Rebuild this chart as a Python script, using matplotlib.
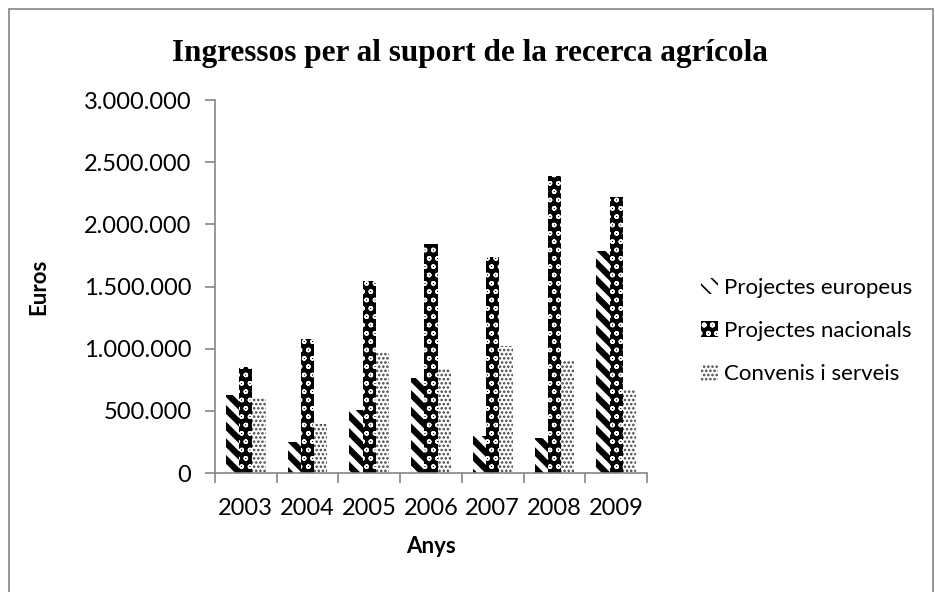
import numpy as np
import matplotlib
matplotlib.use("Agg")
from matplotlib import pyplot as plt
from matplotlib.patches import Rectangle
from matplotlib.ticker import FuncFormatter

years = ["2003", "2004", "2005", "2006", "2007", "2008", "2009"]
europeus = [626000, 251000, 505000, 765000, 297000, 278000, 1789000]
nacionals = [853000, 1080000, 1548000, 1842000, 1735000, 2390000, 2216000]
convenis = [607000, 398000, 973000, 834000, 1021000, 906000, 666000]
series_names = ["Projectes europeus", "Projectes nacionals", "Convenis i serveis"]

plt.rcParams['font.family'] = ['Lato', 'DejaVu Sans']
AXIS_GREY = '#868686'


def thousands(v, pos):
    return "{:,.0f}".format(v).replace(",", ".")


def hatch_bars(ax, x, vals, width, face, hatch_col, hatch, hatch_lw, label):
    plt.rcParams['hatch.linewidth'] = hatch_lw
    bars = ax.bar(x, vals, width, color=face, edgecolor=hatch_col, hatch=hatch,
                  linewidth=0, label=label)
    for b in bars:
        if hasattr(b, 'set_hatch_linewidth'):
            b.set_hatch_linewidth(hatch_lw)
    return bars


fig = plt.figure(figsize=(9.35, 5.92), dpi=100)
fig.patches.append(Rectangle((9 / 935, -0.1), 924 / 935, 1.1 - 9 / 592, transform=fig.transFigure,
                             fill=False, edgecolor=AXIS_GREY, linewidth=1.2))
ax = fig.add_axes([215 / 935, 1 - 473 / 592, (647 - 215) / 935, (473 - 100) / 592])

x = np.arange(len(years))
w = 0.215
b1 = hatch_bars(ax, x - w, europeus, w, 'white', 'black', '\\\\', 4.5, series_names[0])
b2 = hatch_bars(ax, x, nacionals, w, 'black', 'white', 'oo', 1.0, series_names[1])
b3 = hatch_bars(ax, x + w, convenis, w, 'white', '#404040', '....', 1.2, series_names[2])

ax.set_xlim(-0.5, len(years) - 0.5)
ax.set_ylim(0, 3000000)
ax.set_yticks(np.arange(0, 3000001, 500000))
ax.yaxis.set_major_formatter(FuncFormatter(thousands))
ax.set_xticks(np.arange(-0.5, len(years), 1.0), minor=False)
ax.set_xticklabels([])
ax.set_xticks(x, minor=True)
ax.set_xticklabels(years, minor=True)
ax.tick_params(axis='x', which='minor', length=0, labelsize=17, pad=18)
ax.tick_params(axis='x', which='major', length=7, color=AXIS_GREY, width=1.2)
ax.tick_params(axis='y', length=7, color=AXIS_GREY, width=1.2, labelsize=17, pad=10)

for side in ['top', 'right']:
    ax.spines[side].set_visible(False)
for side in ['left', 'bottom']:
    ax.spines[side].set_color(AXIS_GREY)
    ax.spines[side].set_linewidth(1.2)

ax.set_xlabel("Anys", fontsize=16, fontweight='bold', labelpad=12)
ax.set_ylabel("Euros", fontsize=16, fontweight='bold', labelpad=25)

fig.text(0.503, 1 - 54 / 592, "Ingressos per al suport de la recerca agrícola",
         family='Liberation Serif', fontsize=22.5, fontweight='bold', ha='center', va='center')

leg = fig.legend(handles=[b1, b2, b3], labels=series_names, loc='center left',
                 bbox_to_anchor=(681 / 935, 1 - 331 / 592), frameon=False, fontsize=16,
                 handlelength=0.75, handleheight=0.75, handletextpad=0.3, labelspacing=1.05)

fig.savefig("out.png", dpi=100)
